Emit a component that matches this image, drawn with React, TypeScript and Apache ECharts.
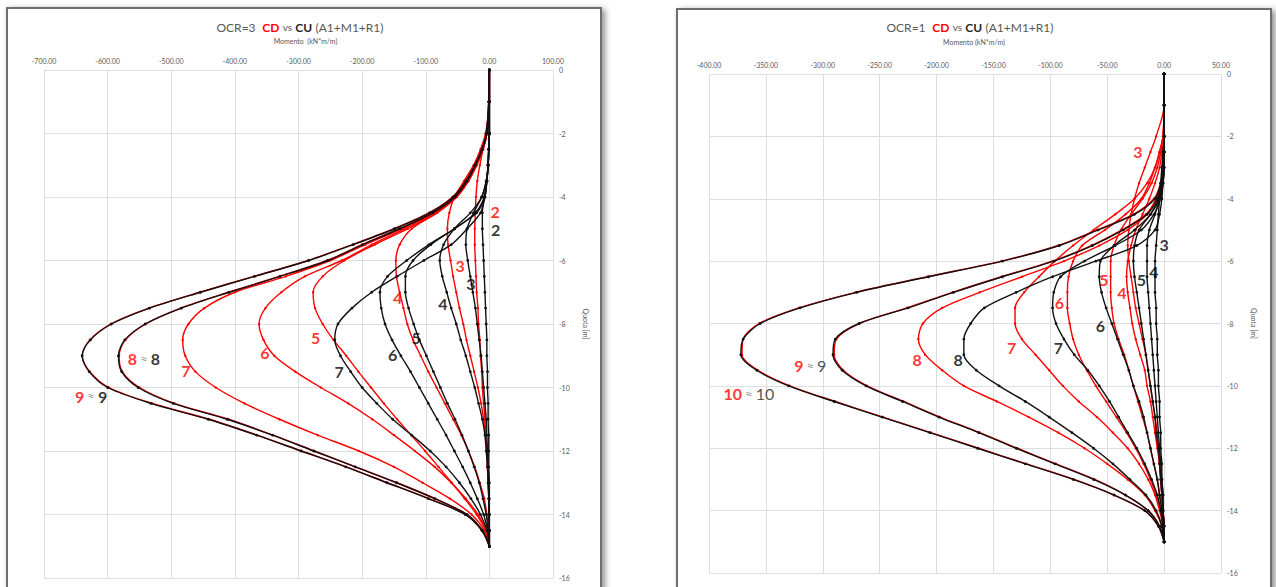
import React, { useEffect, useRef } from "react";
import * as echarts from "echarts";

const FONT = 'Lato, "Open Sans", "Liberation Sans", sans-serif';

// depths (m) shared by every curve
const DEPTHS = [0, -1, -2, -2.5, -3, -3.5, -4, -4.5, -5, -5.5, -6, -6.5, -7, -7.5, -8, -8.5, -9, -9.5, -10, -10.5, -11, -11.5, -12, -12.5, -13, -13.5, -14, -14.5, -15];

// ---------- OCR=3 (left chart): moments kN*m/m ----------
const L_CD_2 = [0, 0, -5, -10, -15, -19, -21, -22, -23, -23, -22, -21, -20, -18, -17, -15, -14, -12, -11, -9, -7, -6, -4, -3, -2, -1, -1, 0, 0];
const L_CD_3 = [0, 0, -6, -14, -25, -40, -55, -63, -66, -65, -61, -57, -52, -47, -41, -36, -30, -24, -18, -13, -9, -6, -4, -3, -2, -1, -1, 0, 0];
const L_CD_4 = [0, 0, -4, -10, -20, -33, -51, -82, -122, -141, -147, -146, -141, -135, -129, -120, -108, -96, -83, -70, -57, -44, -33, -23, -15, -8, -4, -1, 0];
const L_CD_5 = [0, 0, -4, -10, -20, -33, -52, -84, -128, -180, -228, -262, -277, -274, -262, -245, -225, -206, -186, -166, -145, -123, -101, -80, -59, -39, -20, -6, 0];
const L_CD_6 = [0, 0, -4, -10, -20, -34, -53, -86, -133, -185, -232, -290, -327, -352, -362, -355, -338, -305, -265, -222, -184, -150, -117, -86, -60, -37, -18, -5, 0];
const L_CD_7 = [0, 0, -4, -10, -21, -35, -54, -88, -138, -195, -250, -320, -400, -448, -473, -482, -478, -462, -430, -385, -330, -270, -205, -150, -105, -62, -28, -8, 0];
const L_CD_8 = [0, -1, -4, -11, -22, -36, -55, -90, -142, -200, -255, -330, -410, -485, -540, -572, -582, -577, -550, -495, -410, -340, -275, -210, -145, -85, -35, -11, 0];
const L_CD_9 = [0, -1, -5, -12, -24, -38, -58, -95, -150, -215, -285, -370, -455, -535, -595, -628, -640, -628, -598, -530, -440, -365, -295, -225, -160, -95, -38, -12, 0];

const L_CU_2 = [0, 0, 0, -1, -2, -4, -8, -11, -11, -10, -9, -8, -7, -6, -5, -4, -4, -3, -3, -2, -2, -1, -1, -1, 0, 0, 0, 0, 0];
const L_CU_3 = [0, 0, 0, -1, -2, -5, -12, -25, -35, -37, -34, -30, -26, -22, -19, -16, -13, -11, -9, -7, -5, -4, -3, -2, -1, -1, 0, 0, 0];
const L_CU_4 = [0, 0, 0, -1, -2, -5, -12, -30, -55, -72, -78, -74, -67, -60, -52, -45, -37, -30, -23, -17, -11, -7, -5, -3, -2, -1, -1, 0, 0];
const L_CU_5 = [0, 0, 0, -1, -2, -4, -7, -20, -55, -92, -120, -132, -132, -127, -119, -110, -99, -88, -77, -66, -54, -43, -33, -24, -16, -10, -5, -2, 0];
const L_CU_6 = [0, 0, 0, -1, -2, -4, -8, -22, -55, -95, -130, -160, -172, -170, -164, -153, -139, -124, -110, -96, -82, -68, -55, -42, -30, -19, -9, -3, 0];
const L_CU_7 = [0, 0, 0, -1, -2, -4, -7, -14, -35, -60, -103, -145, -185, -216, -238, -243, -234, -218, -200, -177, -152, -122, -93, -68, -47, -29, -14, -4, 0];
const L_CU_8 = [0, -1, -4, -11, -22, -35, -54, -89, -141, -199, -254, -329, -409, -484, -541, -573, -583, -578, -552, -497, -412, -341, -276, -211, -146, -86, -35, -11, 0];
const L_CU_9 = [0, -1, -5, -12, -23, -37, -57, -94, -149, -214, -284, -369, -454, -534, -594, -627, -640, -629, -600, -532, -442, -366, -296, -226, -161, -96, -38, -12, 0];

// ---------- OCR=1 (right chart) ----------
const R_CD_3 = [0, 0, -7, -12, -17, -22, -26, -29, -31, -32, -31, -29, -27, -25, -22, -19, -16, -14, -12, -10, -8, -6, -5, -4, -3, -2, -1, 0, 0];
const R_CD_4 = [0, 0, 0, -2, -4, -8, -13, -19, -25, -29, -32, -33, -32, -30, -28, -25, -21, -17, -15, -12, -10, -8, -6, -4, -3, -2, -1, 0, 0];
const R_CD_5 = [0, 0, -1, -3, -6, -11, -19, -29, -38, -44, -47, -47, -47, -46, -44, -40, -35, -31, -27, -23, -19, -15, -12, -9, -6, -4, -2, -1, 0];
const R_CD_6 = [0, 0, -1, -4, -8, -13, -20, -34, -52, -72, -80, -84, -85, -85, -83, -80, -75, -68, -60, -51, -42, -33, -25, -18, -12, -7, -3, -1, 0];
const R_CD_7 = [0, 0, -1, -4, -8, -15, -26, -43, -62, -80, -96, -110, -123, -131, -131, -125, -113, -101, -89, -75, -59, -45, -32, -22, -14, -8, -4, -1, 0];
const R_CD_8 = [0, 0, 0, 0, -1, -2, -6, -15, -32, -57, -88, -125, -162, -195, -212, -216, -210, -195, -176, -147, -119, -93, -70, -50, -32, -17, -8, -2, 0];
const R_CD_9 = [0, 0, 0, 0, -1, -2, -7, -16, -37, -64, -98, -143, -186, -226, -268, -288, -290, -282, -261, -229, -197, -162, -129, -95, -61, -34, -14, -4, 0];
const R_CD_10 = [0, 0, 0, 0, -1, -3, -9, -27, -59, -93, -143, -208, -271, -321, -356, -370, -371, -357, -329, -289, -247, -205, -163, -121, -79, -44, -17, -5, 0];

const R_CU_3 = [0, 0, 0, -1, -2, -3, -4, -5, -6, -7, -8, -8, -8, -7, -7, -6, -6, -5, -5, -4, -4, -3, -3, -2, -2, -1, -1, 0, 0];
const R_CU_4 = [0, 0, 0, 0, -1, -2, -4, -8, -13, -15, -15, -15, -14, -13, -12, -11, -10, -9, -8, -7, -6, -5, -4, -3, -2, -1, -1, 0, 0];
const R_CU_5 = [0, 0, 0, 0, -1, -2, -5, -12, -22, -26, -27, -26, -24, -22, -20, -18, -16, -14, -12, -10, -8, -7, -5, -4, -3, -2, -1, 0, 0];
const R_CU_6 = [0, 0, 0, 0, 0, -1, -4, -12, -26, -44, -56, -57, -55, -51, -46, -41, -36, -31, -27, -22, -18, -15, -12, -9, -6, -4, -2, -1, 0];
const R_CU_7 = [0, 0, 0, 0, 0, -1, -3, -9, -20, -43, -70, -91, -97, -98, -95, -88, -79, -67, -57, -48, -40, -32, -24, -17, -11, -6, -3, -1, 0];
const R_CU_8 = [0, 0, 0, 0, 0, -1, -2, -4, -8, -24, -60, -98, -130, -158, -170, -176, -176, -165, -145, -122, -101, -81, -62, -45, -30, -16, -7, -2, 0];
const R_CU_9 = [0, 0, 0, 0, -1, -2, -6, -15, -36, -63, -97, -142, -185, -225, -268, -289, -291, -283, -262, -230, -198, -163, -130, -96, -62, -34, -14, -4, 0];
const R_CU_10 = [0, 0, 0, 0, -1, -3, -8, -26, -58, -92, -142, -207, -270, -320, -355, -370, -372, -358, -330, -290, -248, -206, -164, -122, -80, -44, -17, -5, 0];

const LEFT_CD = [L_CD_2, L_CD_3, L_CD_4, L_CD_5, L_CD_6, L_CD_7, L_CD_8, L_CD_9];
const LEFT_CU = [L_CU_2, L_CU_3, L_CU_4, L_CU_5, L_CU_6, L_CU_7, L_CU_8, L_CU_9];
const RIGHT_CD = [R_CD_3, R_CD_4, R_CD_5, R_CD_6, R_CD_7, R_CD_8, R_CD_9, R_CD_10];
const RIGHT_CU = [R_CU_3, R_CU_4, R_CU_5, R_CU_6, R_CU_7, R_CU_8, R_CU_9, R_CU_10];
const LEFT_IDS = ["2", "3", "4", "5", "6", "7", "8", "9"];
const RIGHT_IDS = ["3", "4", "5", "6", "7", "8", "9", "10"];

// curve tags: [moment, depth, CD text, CU text]
const LEFT_TAGS: [number, number, string, string][] = [
  [9, -4.45, "2", ""],
  [10, -5.02, "", "2"],
  [-46, -6.15, "3", ""],
  [-29, -6.72, "", "3"],
  [-144, -7.16, "4", ""],
  [-73, -7.34, "", "4"],
  [-273, -8.41, "5", ""],
  [-115, -8.44, "", "5"],
  [-353, -8.89, "6", ""],
  [-152, -8.95, "", "6"],
  [-477, -9.45, "7", ""],
  [-236, -9.51, "", "7"],
  [-543, -9.1, "8", "8"],
  [-626, -10.27, "9", "9"],
];
const RIGHT_TAGS: [number, number, string, string][] = [
  [-23, -2.5, "3", ""],
  [0, -5.48, "", "3"],
  [-9, -6.32, "", "4"],
  [-53, -6.6, "5", ""],
  [-20, -6.6, "", "5"],
  [-37, -6.99, "4", ""],
  [-92, -7.34, "6", ""],
  [-56, -8.08, "", "6"],
  [-134, -8.78, "7", ""],
  [-93, -8.78, "", "7"],
  [-217, -9.17, "8", ""],
  [-181, -9.17, "", "8"],
  [-311, -9.36, "9", "9"],
  [-365, -10.26, "10", "10"],
];

const RED = "#ff0000";
const BLACK = "#111111";
const GREY = "#595959";

function curve(name: string, values: number[], color: string, axis: number, size: number, z: number) {
  return {
    type: "line",
    name,
    xAxisIndex: axis,
    yAxisIndex: axis,
    data: DEPTHS.map((d, i) => [values[i], d]),
    smooth: 0.3,
    showSymbol: true,
    symbol: "circle",
    symbolSize: size,
    lineStyle: { color, width: 1.4 },
    itemStyle: { color },
    silent: true,
    z,
  };
}

function tags(list: [number, number, string, string][], axis: number, pairBold: boolean) {
  return {
    type: "scatter",
    xAxisIndex: axis,
    yAxisIndex: axis,
    symbol: "circle",
    symbolSize: 1,
    itemStyle: { color: "rgba(0,0,0,0)" },
    silent: true,
    z: 20,
    data: list.map((t) => ({ value: [t[0], t[1]], cd: t[2], cu: t[3] })),
    label: {
      show: true,
      position: "inside",
      formatter: (p: any) => {
        const cd = p.data.cd;
        const cu = p.data.cu;
        if (cd && cu) return `{r|${cd}} {a|≈} {${pairBold ? "k" : "p"}|${cu}}`;
        if (cd) return `{r|${cd}}`;
        return `{k|${cu}}`;
      },
      rich: {
        r: { color: RED, fontWeight: "bold", fontSize: 16, fontFamily: FONT },
        k: { color: "#000000", fontWeight: "bold", fontSize: 16, fontFamily: FONT },
        p: { color: "#262626", fontWeight: "normal", fontSize: 16, fontFamily: FONT },
        a: { color: "#808080", fontSize: 13, fontFamily: FONT },
      },
    },
  };
}

function xAxis(grid: number, min: number, max: number, interval: number, name: string, gap: number, pad: number) {
  return {
    type: "value",
    gridIndex: grid,
    position: "top",
    min,
    max,
    interval,
    name,
    nameLocation: "middle",
    nameGap: gap,
    nameTextStyle: { color: GREY, fontSize: 7, fontFamily: FONT, padding: [0, 0, 0, pad] },
    axisLine: { show: false, lineStyle: { color: GREY } },
    axisTick: { show: false },
    axisLabel: { color: GREY, fontSize: 7, fontFamily: FONT, margin: 6, formatter: (v: number) => v.toFixed(2) },
    splitLine: { show: true, lineStyle: { color: "#dedede", width: 1 } },
  };
}

function yAxis(grid: number) {
  return {
    type: "value",
    gridIndex: grid,
    position: "right",
    min: -16,
    max: 0,
    interval: 2,
    name: "Quota [m]",
    nameLocation: "middle",
    nameRotate: -90,
    nameGap: 29,
    nameTextStyle: { color: GREY, fontSize: 7, fontFamily: FONT },
    axisLine: { show: false, lineStyle: { color: GREY } },
    axisTick: { show: false },
    axisLabel: { color: GREY, fontSize: 7, fontFamily: FONT, margin: 6, formatter: (v: number) => String(v) },
    splitLine: { show: true, lineStyle: { color: "#dedede", width: 1 } },
  };
}

function title(x: number, ocr: string) {
  return {
    type: "text",
    x,
    y: 27,
    silent: true,
    style: {
      text: `{g|${ocr}}  {r|CD} {v|vs} {k|CU} {g|(A1+M1+R1)}`,
      align: "center",
      verticalAlign: "middle",
      rich: {
        g: { fill: GREY, fontSize: 12, fontFamily: FONT },
        r: { fill: RED, fontSize: 12, fontWeight: "bold", fontFamily: FONT },
        v: { fill: GREY, fontSize: 10, fontFamily: FONT },
        k: { fill: "#262626", fontSize: 12, fontWeight: "bold", fontFamily: FONT },
      },
    },
  };
}

function frame(x: number, y: number) {
  return {
    type: "rect",
    silent: true,
    z: -10,
    shape: { x, y, width: 594, height: 600 },
    style: {
      fill: "#ffffff",
      stroke: "#6e6e6e",
      lineWidth: 2,
      shadowBlur: 6,
      shadowOffsetX: 3,
      shadowOffsetY: 2,
      shadowColor: "rgba(0,0,0,0.45)",
    },
  };
}

export default function App() {
  const ref = useRef<HTMLDivElement>(null);
  useEffect(() => {
    document.body.style.margin = "0";
    if (!ref.current) return;
    const chart = echarts.init(ref.current, null, { renderer: "svg" });
    const series: any[] = [];
    LEFT_CD.forEach((v, i) => series.push(curve("CD " + LEFT_IDS[i], v, RED, 0, 2.4, 2)));
    LEFT_CU.forEach((v, i) => series.push(curve("CU " + LEFT_IDS[i], v, BLACK, 0, 2.8, 3)));
    RIGHT_CD.forEach((v, i) => series.push(curve("CD " + RIGHT_IDS[i], v, RED, 1, 2.4, 2)));
    RIGHT_CU.forEach((v, i) => series.push(curve("CU " + RIGHT_IDS[i], v, BLACK, 1, 2.8, 3)));
    series.push(tags(LEFT_TAGS, 0, true));
    series.push(tags(RIGHT_TAGS, 1, false));

    chart.setOption({
      animation: false,
      backgroundColor: "#ffffff",
      textStyle: { fontFamily: FONT },
      grid: [
        { left: 44, top: 70, width: 509, height: 508 },
        { left: 709, top: 74, width: 512, height: 499 },
      ],
      xAxis: [
        xAxis(0, -700, 100, 100, "Momento  (kN*m/m)", 26, 14),
        xAxis(1, -400, 50, 50, "Momento (kN*m/m)", 29, 18),
      ],
      yAxis: [yAxis(0), yAxis(1)],
      graphic: [frame(7, 8), frame(677, 9), title(300, "OCR=3"), title(970, "OCR=1")],
      series,
    });
    return () => chart.dispose();
  }, []);
  return <div ref={ref} style={{ width: 1276, height: 587 }} />;
}
